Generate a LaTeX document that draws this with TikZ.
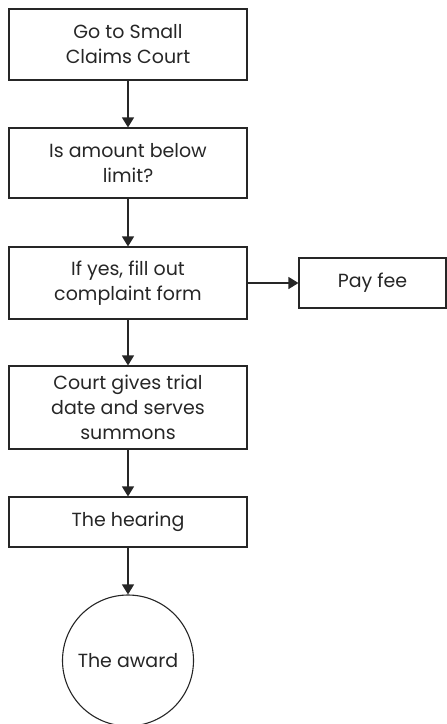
\documentclass[tikz,border=0pt]{standalone}
\usepackage{fontspec}
\setmainfont{Poppins}
\usetikzlibrary{arrows.meta}
\begin{document}
\begin{tikzpicture}[x=1pt,y=-1pt,
  every node/.style={font=\fontsize{19}{25}\selectfont, text=black!85, align=center, inner sep=0pt},
  stepbox/.style={draw=black!85, line width=1.1pt, minimum width=238pt},
  flow/.style={draw=black!85, line width=1.1pt, -{Triangle[length=10pt,width=12pt]}}]
  \useasboundingbox (0,0) rectangle (447,724);
  \node[stepbox, minimum height=71pt] (court) at (128,44.5) {Go to Small\\Claims Court};
  \node[stepbox, minimum height=70pt] (limit) at (128,163) {Is amount below\\limit?};
  \node[stepbox, minimum height=72pt] (form) at (128,283) {If yes, fill out\\complaint form};
  \node[stepbox, minimum height=83pt] (trial) at (128,407.5) {Court gives trial\\date and serves\\summons};
  \node[stepbox, minimum height=50pt] (hearing) at (128,522) {The hearing};
  \node[stepbox, minimum width=147pt, minimum height=50pt] (fee) at (372.5,283) {Pay fee};
  \node[draw=black!85, line width=1.1pt, circle, minimum size=131pt] (award) at (128,660.5) {The award};
  \draw[flow] (court) -- (limit);
  \draw[flow] (limit) -- (form);
  \draw[flow] (form) -- (fee);
  \draw[flow] (form) -- (trial);
  \draw[flow] (trial) -- (hearing);
  \draw[flow] (hearing) -- (award);
\end{tikzpicture}
\end{document}
